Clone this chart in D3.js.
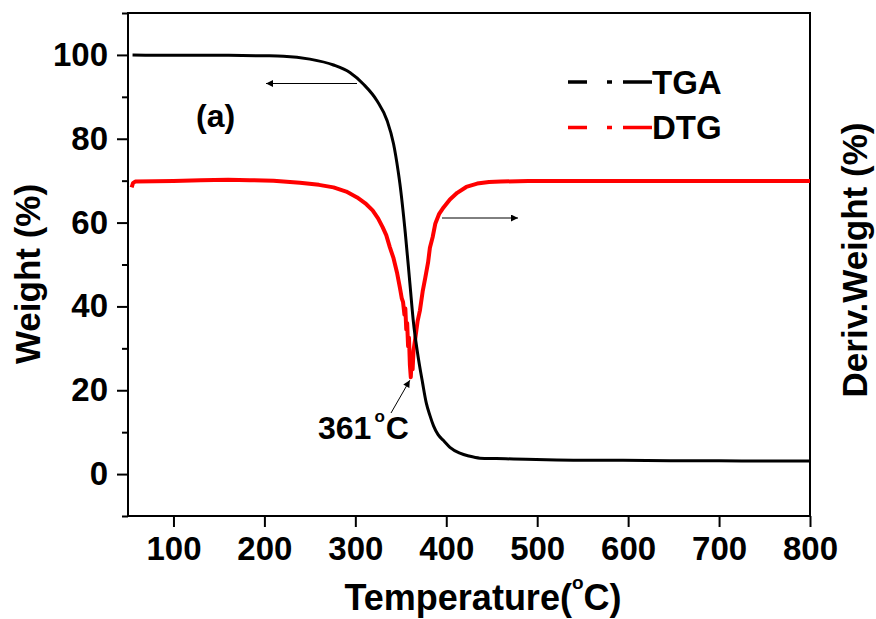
<!DOCTYPE html>
<html>
<head>
<meta charset="utf-8">
<script src="https://cdn.jsdelivr.net/npm/d3@7"></script>
<style>
  body { margin: 0; background: #fff; }
  svg { display: block; font-family: "Liberation Sans", Arial, sans-serif; font-weight: bold; }
</style>
</head>
<body>
<svg id="chart" width="876" height="619"></svg>
<script>
/* TGA / DTG curves of sample (a), weight loss and its derivative vs temperature */

// TGA: temperature (°C) and remaining weight (%)
const TGA_T = [55, 100, 150, 200, 221, 250, 276, 294, 309, 324, 335, 342, 347, 349, 355, 360,
               364, 368, 374, 378, 382, 386, 391, 397, 404, 415, 425, 437, 455, 474, 510, 547, 591, 650, 700, 750, 800];
const TGA_W = [100, 99.9, 99.9, 99.8, 99.7, 99.0, 97.6, 95.8, 93.0, 89.0, 84.3, 78.8, 72.4, 69.3, 57.4, 45.5,
               36.0, 29.5, 21.7, 17.0, 14.0, 11.5, 9.4, 8.0, 6.4, 5.0, 4.3, 3.8, 3.7, 3.6, 3.4, 3.3, 3.3, 3.2, 3.2, 3.1, 3.1];

// DTG: plotted against the unlabelled right axis
const DTG_T = [54, 55.5, 58, 100, 130, 160, 184, 210, 239, 260, 276, 290, 302, 311, 319, 325, 330, 334, 338,
               342, 346, 349, 351, 352.5, 354, 355, 356, 357, 358, 359, 360, 361, 362, 363, 364, 366, 368.5,
               371, 374, 377, 380, 382, 385, 388, 392, 397, 404, 412, 422, 434, 447, 460, 490, 514, 600, 700, 800];
const DTG_V = [68.4, 69.4, 69.8, 69.9, 70.1, 70.2, 70.1, 70.0, 69.5, 69.0, 68.4, 67.4, 66.0, 64.6, 62.9, 61.0,
               58.9, 57.0, 54.1, 51.5, 47.9, 44.5, 42.0, 41.0, 38.0, 39.5, 34.5, 36.0, 30.5, 32.5, 26.0, 23.1,
               27.5, 25.0, 29.5, 32.5, 36.5, 39.0, 43.5, 46.9, 50.5, 54.0, 56.5, 59.8, 62.0, 63.6, 65.5, 67.1,
               68.5, 69.3, 69.7, 69.8, 69.9, 69.9, 69.9, 69.9, 69.9];

const X_TICKS = [100, 200, 300, 400, 500, 600, 700, 800];
const Y_TICKS = [0, 20, 40, 60, 80, 100];
const Y_MINOR = [-10, 10, 30, 50, 70, 90, 110];

const SERIES = [
  { name: "TGA", color: "#000000" },
  { name: "DTG", color: "#ff0000" }
];

const W = 876, H = 619;
const m = { left: 128, right: 66, top: 13, bottom: 103 };

const svg = d3.select("#chart");

const x = d3.scaleLinear().domain([50, 800]).range([m.left, W - m.right]);
const y = d3.scaleLinear().domain([-10, 110]).range([H - m.bottom, m.top]);
// right axis for DTG (no tick labels in the original)
const yR = d3.scaleLinear().domain([-10, 110]).range([H - m.bottom, m.top]);

// arrowhead marker
svg.append("defs").append("marker")
    .attr("id", "arrow").attr("viewBox", "0 0 10 10")
    .attr("refX", 10).attr("refY", 5)
    .attr("markerWidth", 11).attr("markerHeight", 7)
    .attr("markerUnits", "userSpaceOnUse")
    .attr("orient", "auto")
  .append("path").attr("d", "M0,0 L10,5 L0,10 Z").attr("fill", "#000");

// minor y ticks
svg.append("g")
    .attr("transform", `translate(${m.left},0)`)
    .call(d3.axisLeft(y).tickValues(Y_MINOR).tickSize(6).tickFormat(""))
    .call(g => g.select(".domain").remove())
    .call(g => g.selectAll("line").attr("stroke-width", 2));

// major y ticks
svg.append("g")
    .attr("transform", `translate(${m.left},0)`)
    .call(d3.axisLeft(y).tickValues(Y_TICKS).tickSize(11).tickPadding(9))
    .call(g => g.select(".domain").remove())
    .call(g => g.selectAll("line").attr("stroke-width", 2))
    .call(g => g.selectAll("text").attr("font-size", 33).attr("font-family", null).attr("fill", "#000"));

// x ticks
svg.append("g")
    .attr("transform", `translate(0,${H - m.bottom})`)
    .call(d3.axisBottom(x).tickValues(X_TICKS).tickSize(11).tickPadding(10))
    .call(g => g.select(".domain").remove())
    .call(g => g.selectAll("line").attr("stroke-width", 2))
    .call(g => g.selectAll("text").attr("font-size", 33).attr("font-family", null).attr("fill", "#000"));

// frame
svg.append("rect")
    .attr("x", m.left).attr("y", m.top)
    .attr("width", W - m.left - m.right).attr("height", H - m.top - m.bottom)
    .attr("fill", "none").attr("stroke", "#000").attr("stroke-width", 2);

// curves
const tgaLine = d3.line().x(d => x(d[0])).y(d => y(d[1])).curve(d3.curveMonotoneX);
const dtgLine = d3.line().x(d => x(d[0])).y(d => yR(d[1]));

svg.append("path")
    .datum(DTG_T.map((t, i) => [t, DTG_V[i]]))
    .attr("d", dtgLine)
    .attr("fill", "none").attr("stroke", SERIES[1].color)
    .attr("stroke-width", 4).attr("stroke-linejoin", "round");

svg.append("path")
    .datum(TGA_T.map((t, i) => [t, TGA_W[i]]))
    .attr("d", tgaLine)
    .attr("fill", "none").attr("stroke", SERIES[0].color)
    .attr("stroke-width", 3);

// legend
const legend = svg.append("g");
SERIES.forEach((s, i) => {
  const ly = 82 + i * 45.5;
  legend.append("line")
      .attr("x1", 568).attr("x2", 652).attr("y1", ly).attr("y2", ly)
      .attr("stroke", s.color).attr("stroke-width", 3.5)
      .attr("stroke-dasharray", "19,20,5,11,29");
  legend.append("text")
      .attr("x", 652).attr("y", ly + 11.5)
      .attr("font-size", 33).text(s.name);
});

// arrows pointing to the axis each curve belongs to
svg.append("line")
    .attr("x1", 357).attr("y1", 83.5).attr("x2", 266).attr("y2", 83.5)
    .attr("stroke", "#000").attr("stroke-width", 1).attr("marker-end", "url(#arrow)");
svg.append("line")
    .attr("x1", 442).attr("y1", 218).attr("x2", 518).attr("y2", 218)
    .attr("stroke", "#000").attr("stroke-width", 1).attr("marker-end", "url(#arrow)");

// peak annotation
svg.append("line")
    .attr("x1", 391).attr("y1", 413).attr("x2", x(361) - 1).attr("y2", yR(23.1) + 3)
    .attr("stroke", "#000").attr("stroke-width", 1).attr("marker-end", "url(#arrow)");
const peak = svg.append("text").attr("x", 318).attr("y", 439).attr("font-size", 32);
peak.append("tspan").text("361");
peak.append("tspan").attr("font-size", 17).attr("dy", -17).attr("dx", 3).text("o");
peak.append("tspan").attr("dy", 17).attr("dx", 1).text("C");

// panel label
svg.append("text").attr("x", 196).attr("y", 127).attr("font-size", 32).text("(a)");

// axis titles
const xt = svg.append("text")
    .attr("x", (m.left + W - m.right) / 2 + 14).attr("y", 610)
    .attr("text-anchor", "middle").attr("font-size", 36);
xt.append("tspan").text("Temperature(");
xt.append("tspan").attr("font-size", 19).attr("dy", -21).text("o");
xt.append("tspan").attr("dy", 21).text("C)");

svg.append("text")
    .attr("transform", `translate(40,274) rotate(-90)`)
    .attr("text-anchor", "middle").attr("font-size", 35)
    .text("Weight (%)");

svg.append("text")
    .attr("transform", `translate(867,260) rotate(-90)`)
    .attr("text-anchor", "middle").attr("font-size", 35)
    .text("Deriv.Weight (%)");
</script>
</body>
</html>
